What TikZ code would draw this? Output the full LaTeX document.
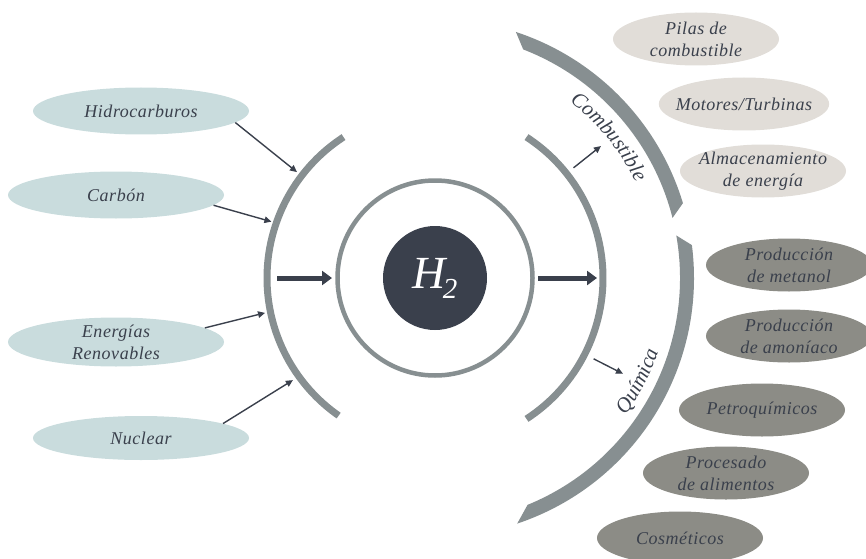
\documentclass[tikz,border=0pt]{standalone}
\usepackage{fontspec}
\setmainfont{Liberation Serif}[LetterSpace=3]
\usetikzlibrary{shapes.geometric,arrows.meta,decorations.text}

\definecolor{slate}{HTML}{3A404C}
\definecolor{ringgray}{HTML}{878F91}
\definecolor{source}{HTML}{C9DCDD}
\definecolor{fuel}{HTML}{E1DDD8}
\definecolor{chem}{HTML}{8C8C86}
\newcommand{\diagfont}{\itshape\fontsize{18}{22}\selectfont}
\newcommand{\arcfont}{\itshape\fontsize{21}{21}\selectfont}

\begin{document}
\begin{tikzpicture}[x=1pt, y=1pt,
  src/.style = {ellipse, fill=source, minimum width=216pt, minimum height=47pt, inner sep=-8pt, text=slate, font=\diagfont, align=center},
  use/.style = {ellipse, fill=fuel, minimum width=166pt, minimum height=53pt, inner sep=-8pt, text=slate, font=\diagfont, align=center},
  chemuse/.style = {use, fill=chem},
  band/.style = {ringgray, line width=7pt},
  thin/.style = {slate, line width=1.4pt, -{Triangle[length=7pt,width=6.5pt]}},
  thick/.style = {slate, line width=5pt, -{Triangle[length=10pt,width=14pt]}}]
\useasboundingbox (0,0) rectangle (866,558);

\node[circle, fill=slate, minimum size=104pt, text=white] (h2) at (435,280)
  {\fontsize{46}{46}\selectfont\itshape H\kern-3pt\raisebox{-10pt}{\fontsize{29}{29}\selectfont 2}};
\draw[ringgray, line width=4.5pt] (h2.center) circle[radius=97.5];

\node[src] (hidro) at (141,447) {Hidrocarburos};
\node[src] (carbon) at (116,363) {Carbón};
\node[src, minimum height=49pt] (renov) at (116,216) {Energías\\Renovables};
\node[src, minimum height=44pt] (nuclear) at (141,120) {Nuclear};

\node[use] (pilas) at (696,519) {Pilas de\\combustible};
\node[use] (motores) at (744,454) {Motores/Turbinas};
\node[use] (almacen) at (763,387) {Almacenamiento\\de energía};

\node[chemuse] (metanol) at (789,293) {Producción\\de metanol};
\node[chemuse] (amoniaco) at (789,222) {Producción\\de amoníaco};
\node[chemuse] (petro) at (762,148) {Petroquímicos};
\node[chemuse] (alimentos) at (726,85) {Procesado\\de alimentos};
\node[chemuse] (cosmeticos) at (680,20) {Cosméticos};

\begin{scope}[shift={(h2.center)}]
\draw[band] (123:168) arc[start angle=123, end angle=235, radius=168];
\draw[band] (-57:168) arc[start angle=-57, end angle=57, radius=168];
\fill[ringgray] (71.8:259) arc[start angle=71.8, end angle=16.8, radius=259]
  -- (14.2:245) arc[start angle=14.2, end angle=68.9, radius=245] -- cycle;
\fill[ringgray] (7.3:259) arc[start angle=7.3, end angle=-71.5, radius=259]
  -- (-67.8:245) arc[start angle=-67.8, end angle=10, radius=245] -- cycle;
\path[decorate, decoration={text along path, text align=center,
  text={|\arcfont\color{slate}|Combustible}}]
  (55:222) arc[start angle=55, end angle=23, radius=222];
\path[decorate, decoration={text along path, text align=center,
  text={|\arcfont\color{slate}|Química}}]
  (-42:235) arc[start angle=-42, end angle=-12, radius=235];
\coordinate (in1) at (142.5:174);
\coordinate (in2) at (161:173);
\coordinate (in3) at (191.6:173.5);
\coordinate (in4) at (215.7:175);
\coordinate (fuelfrom) at (38.5:177);
\coordinate (fuelto) at (38.5:212);
\coordinate (chemfrom) at (-27:178);
\coordinate (chemto) at (-27:211);
\coordinate (leftfrom) at (-158,0);
\coordinate (leftto) at (-103,0);
\coordinate (rightfrom) at (103,0);
\coordinate (rightto) at (162,0);
\end{scope}

\draw[thin] (hidro.-7) -- (in1);
\draw[thin] (carbon.-6) -- (in2);
\draw[thin] (renov.9) -- (in3);
\draw[thin] (nuclear.10) -- (in4);
\draw[thin] (fuelfrom) -- (fuelto);
\draw[thin] (chemfrom) -- (chemto);
\draw[thick] (leftfrom) -- (leftto);
\draw[thick] (rightfrom) -- (rightto);
\end{tikzpicture}
\end{document}
